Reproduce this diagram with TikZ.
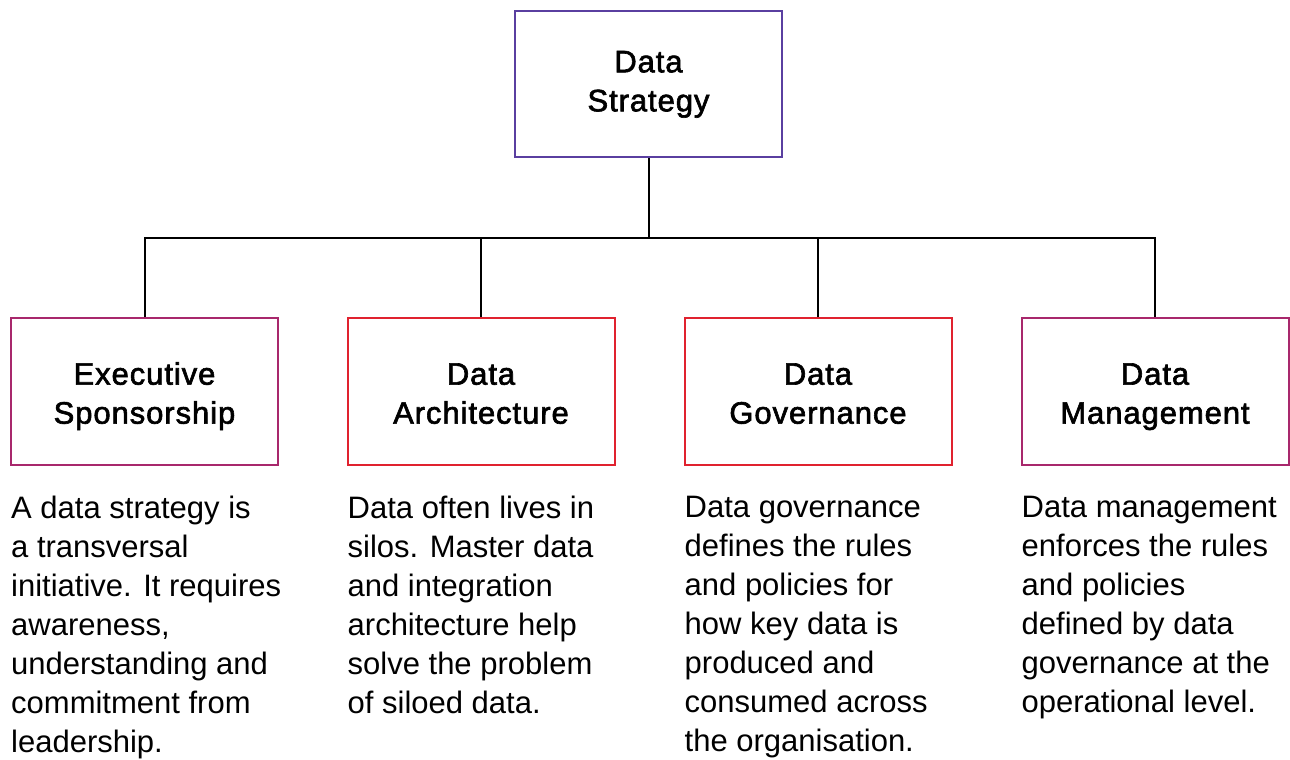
\documentclass[tikz,border=0pt]{standalone}
\usepackage{fontspec}
\setmainfont{Liberation Sans}
\newfontfamily\titlefont{Liberation Sans}[FakeBold=2,LetterSpace=3]

\definecolor{stratpurple}{HTML}{5A3FA0}
\definecolor{boxmagenta}{HTML}{A8286C}
\definecolor{boxred}{HTML}{E0222F}

\tikzset{
  box/.style={draw, line width=2pt, minimum width=267pt, minimum height=147pt,
    align=center, inner sep=0pt, text height=76pt, text depth=11.7pt,
    font=\titlefont\fontsize{31}{39}\selectfont},
  desc/.style={anchor=north west, align=left, inner sep=0pt,
    font=\fontsize{31}{39}\selectfont},
  link/.style={line width=2pt}
}

\begin{document}
\begin{tikzpicture}[x=1pt,y=-1pt]
\useasboundingbox (0,0) rectangle (1290,760);

% top box
\node[box, draw=stratpurple, minimum height=146pt, text height=66.3pt] (strategy) at (648.5,84) {Data\\Strategy};

% the four pillars
\node[box, draw=boxmagenta] (sponsor) at (144.5,391.5) {Executive\\Sponsorship};
\node[box, draw=boxred] (arch) at (481,391.5) {Data\\Architecture};
\node[box, draw=boxred] (gov) at (818,391.5) {Data\\Governance};
\node[box, draw=boxmagenta] (mgmt) at (1155,391.5) {Data\\Management};

% connectors
\draw[link] (strategy.south) -- ++(0,80) coordinate (bus);
\draw[link] (sponsor.north) |- (bus) -| (mgmt.north);
\draw[link] (arch.north) -- (arch.north |- bus);
\draw[link] (gov.north) -- (gov.north |- bus);

% descriptions
\node[desc] (sponsortxt) at (11,496) {A data strategy is\\a transversal\\initiative. It requires\\awareness,\\understanding and\\commitment from\\leadership.};
\node[desc] (archtxt) at (347.5,496) {Data often lives in\\silos. Master data\\and integration\\architecture help\\solve the problem\\of siloed data.};
\node[desc] (govtxt) at (684.5,496) {Data governance\\defines the rules\\and policies for\\how key data is\\produced and\\consumed across\\the organisation.};
\node[desc] (mgmttxt) at (1021.5,496) {Data management\\enforces the rules\\and policies\\defined by data\\governance at the\\operational level.};

\end{tikzpicture}
\end{document}
